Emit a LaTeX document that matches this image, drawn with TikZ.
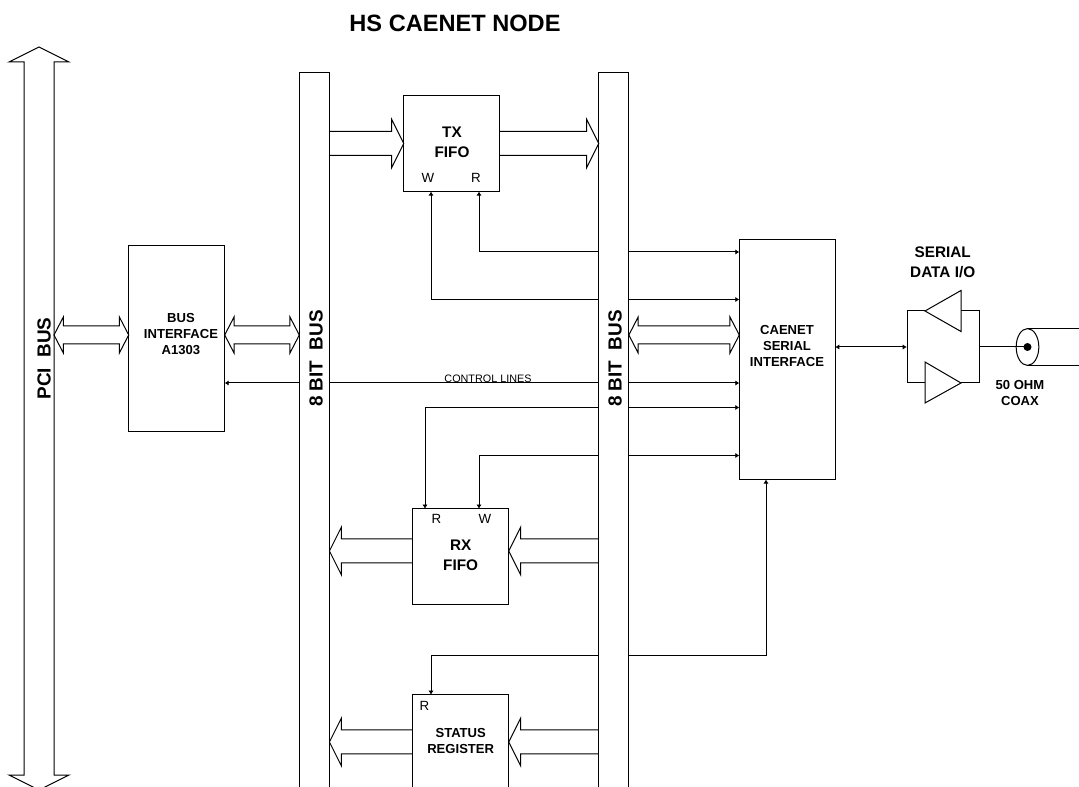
\documentclass[tikz,border=0pt]{standalone}
\usepackage{fontspec}
\setmainfont{Liberation Sans}
\usetikzlibrary{arrows.meta,calc,shapes.geometric}
\newcommand{\fsz}[2]{\fontsize{#1pt}{#2pt}\selectfont}
\tikzset{
  ln/.style={line width=0.75pt,black},
  box/.style={ln,draw,fill=white,rectangle,inner sep=0pt,outer sep=0pt,anchor=north west},
  sig/.style={ln,-{Latex[length=3pt,width=4pt]}},
  sigb/.style={ln,{Latex[length=3pt,width=4pt]}-{Latex[length=3pt,width=4pt]}},
  blk/.style={ln,line join=miter},
  lblA/.style={font=\bfseries\fsz{11.5}{14.6},align=center,inner sep=0pt},
  lblB/.style={font=\bfseries\fsz{9.8}{12},align=center,inner sep=0pt},
  lblC/.style={font=\fsz{10}{12},inner sep=0pt},
  busT/.style={font=\bfseries\fsz{14.2}{16},rotate=90,inner sep=0pt},
}
% one-way block arrow: open at the start, head at the end; #3 = signed head length (pt)
\newcommand{\blockarrow}[3]{%
  \draw[blk] let \p1=(#1),\p2=(#2) in
    (\x1,\y1+9pt) -- (\x2-#3,\y1+9pt) -- (\x2-#3,\y1+18pt) -- (\x2,\y1)
    -- (\x2-#3,\y1-18pt) -- (\x2-#3,\y1-9pt) -- (\x1,\y1-9pt);}
% two-way block arrow
\newcommand{\dblarrow}[2]{%
  \draw[blk] let \p1=(#1),\p2=(#2) in
    (\x1,\y1) -- (\x1+7pt,\y1+13.5pt) -- (\x1+7pt,\y1+6.75pt) -- (\x2-7pt,\y1+6.75pt)
    -- (\x2-7pt,\y1+13.5pt) -- (\x2,\y1) -- (\x2-7pt,\y1-13.5pt) -- (\x2-7pt,\y1-6.75pt)
    -- (\x1+7pt,\y1-6.75pt) -- (\x1+7pt,\y1-13.5pt) -- cycle;}
\begin{document}
\begin{tikzpicture}[x=0.75pt,y=-0.75pt]
\clip (0,0) rectangle (1079,787);

% level and column helpers
\foreach \n/\v in {a/143.5,b/252,c/299.5,d/335,e/383,f/407.5,g/455.5,h/551,i/656,j/742}
  \coordinate (y\n) at (0,\v);
\foreach \n/\v in {a/431,b/479,c/425,d/766}
  \coordinate (x\n) at (\v,0);

% buses
\node[box,minimum width=22.6pt,minimum height=600pt] (busL) at (299.3,72.3) {};
\node[box,minimum width=22.6pt,minimum height=600pt] (busR) at (598.7,72.3) {};

% PCI bus arrow
\coordinate (pcitop) at (39,47);
\coordinate (pcibot) at (39,790);
\coordinate (pcir) at (54,335);
\draw[blk] (pcitop) -- (9,62) -- (24,62) -- (24,775) -- (9,775) -- (pcibot)
  -- (69,775) -- (54,775) -- (54,62) -- (69,62) -- cycle;

% blocks
\node[box,minimum width=72pt,minimum height=72pt] (tx) at (403.7,95.6) {};
\node[box,minimum width=72pt,minimum height=72pt] (rx) at (412.7,508.6) {};
\node[box,minimum width=72pt,minimum height=100pt] (st) at (412.7,694.6) {};
\node[box,minimum width=72pt,minimum height=139.5pt] (bi) at (128.7,245.6) {};
\node[box,minimum width=72pt,minimum height=180pt] (cs) at (739.3,239.6) {};

% block arrows
\blockarrow{busL.east |- ya}{tx.west |- ya}{9pt}
\blockarrow{tx.east |- ya}{busR.west |- ya}{9pt}
\blockarrow{busR.west |- yh}{rx.east |- yh}{-9pt}
\blockarrow{rx.west |- yh}{busL.east |- yh}{-9pt}
\blockarrow{busR.west |- yj}{st.east |- yj}{-9pt}
\blockarrow{st.west |- yj}{busL.east |- yj}{-9pt}
\dblarrow{pcir}{bi.west |- yd}
\dblarrow{bi.east |- yd}{busL.west |- yd}
\dblarrow{busR.east |- yd}{cs.west |- yd}

% control signals
\draw[sig] (busR.west |- yb) -| (tx.south -| xb);
\draw[sig] (busR.west |- yc) -| (tx.south -| xa);
\draw[sig] (busR.west |- yf) -| (rx.north -| xc);
\draw[sig] (busR.west |- yg) -| (rx.north -| xb);
\draw[sig] (busR.west |- yi) -| (st.north -| xa);
\draw[sig] (busR.east |- yi) -| (cs.south -| xd);
\foreach \n in {b,c,e,f,g}
  \draw[sig] (busR.east |- y\n) -- (cs.west |- y\n);
\draw[ln] (busL.east |- ye) -- (busR.west |- ye);
\draw[sig] (busL.west |- ye) -- (bi.east |- ye);

% serial I/O
\node[inner sep=0pt,minimum size=0pt] (hub) at (907,347) {};
\coordinate (hubT) at (907,311);
\coordinate (hubB) at (907,383);
\coordinate (outT) at (979,311);
\coordinate (outB) at (979,383);
\coordinate (outM) at (979,347);
\coordinate (drvT) at (925,311);
\coordinate (drvB) at (961,383);
\draw[blk] (drvT) -- (961,290.5) -- (961,331.5) -- cycle;
\draw[blk] (drvB) -- (925,362) -- (925,403) -- cycle;
\draw[ln] (drvT) -- (hubT) -- (hubB) -- (925,383);
\draw[ln] (961,311) -- (outT) -- (outB) -- (drvB);
\draw[sigb] (cs.east |- hub) -- (hub);

% coax
\coordinate (cxT) at (1027.5,328.6);
\coordinate (cxB) at (1027.5,365.4);
\coordinate (cxTe) at (1079,328.6);
\coordinate (cxBe) at (1079,365.4);
\draw[ln] (cxT) -- (cxTe);
\draw[ln] (cxB) -- (cxBe);
\node[ln,draw,ellipse,inner sep=0pt,outer sep=0pt,minimum width=17pt,minimum height=27.6pt] (cx) at (1027.5,347) {};
\fill (cx.center) circle (4);
\draw[ln] (outM) -- (cx.center);

% texts
\node[font=\bfseries\fsz{17.7}{20},inner sep=0pt] (title) at (455,23.5) {HS CAENET NODE};
\node[busT] (tpci) at (44,358.5) {PCI\ \ BUS};
\node[busT] (tbl) at (316,358.5) {8 BIT\ \ BUS};
\node[busT] (tbr) at (615,358.5) {8 BIT\ \ BUS};
\node[lblA] (ttx) at (452,142.5) {TX\\FIFO};
\node[lblA] (trx) at (460.7,555.5) {RX\\FIFO};
\node[lblB] (tst) at (460.7,741) {STATUS\\REGISTER};
\node[lblB] (tbi) at (181,334) {BUS\\INTERFACE\\A1303};
\node[lblB] (tcs) at (787,346.5) {CAENET\\SERIAL\\INTERFACE};
\node[lblA] (tsd) at (942.7,262.5) {SERIAL\\DATA I/O};
\node[lblB] (tcx) at (1020,393.5) {50 OHM\\COAX};
\node[lblC] (w1) at (428,178) {W};
\node[lblC] (r1) at (476,178) {R};
\node[lblC] (r2) at (436.5,519) {R};
\node[lblC] (w2) at (485,519) {W};
\node[lblC] (r3) at (424.5,705.5) {R};
\node[font=\fsz{8.1}{10},inner sep=0pt] (cl) at (488,379) {CONTROL LINES};
\end{tikzpicture}
\end{document}
